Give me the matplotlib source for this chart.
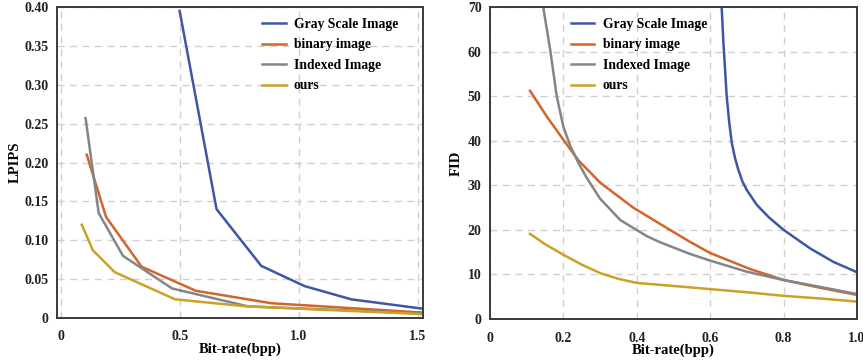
import matplotlib
matplotlib.use("Agg")
import matplotlib.pyplot as plt

plt.rcParams['font.family'] = ['Liberation Serif', 'DejaVu Serif']
plt.rcParams['font.weight'] = 'bold'

series_names = ["Gray Scale Image", "binary image", "Indexed Image", "ours"]
colors = ["#3E56A6", "#D2642C", "#858585", "#C9A227"]

# LPIPS panel
lp_gray_x = [0.50, 0.655, 0.843, 1.025, 1.221, 1.52]
lp_gray_y = [0.395, 0.140, 0.067, 0.041, 0.024, 0.012]
lp_bin_x = [0.110, 0.191, 0.340, 0.568, 0.885, 1.52]
lp_bin_y = [0.210, 0.130, 0.066, 0.035, 0.019, 0.007]
lp_idx_x = [0.105, 0.160, 0.262, 0.468, 0.787, 1.52]
lp_idx_y = [0.257, 0.135, 0.080, 0.038, 0.015, 0.006]
lp_our_x = [0.089, 0.136, 0.227, 0.481, 0.780, 1.52]
lp_our_y = [0.120, 0.087, 0.059, 0.024, 0.015, 0.005]

# FID panel
fid_gray_x = [0.630, 0.636, 0.645, 0.652, 0.659, 0.668, 0.677, 0.688, 0.700, 0.727, 0.760, 0.800, 0.845, 0.873, 0.936, 1.0]
fid_gray_y = [72.0, 62.0, 49.9, 44.0, 39.4, 36.0, 33.4, 30.8, 28.9, 25.6, 22.8, 20.0, 17.4, 15.8, 12.8, 10.5]
fid_bin_x = [0.109, 0.155, 0.200, 0.241, 0.300, 0.390, 0.464, 0.545, 0.600, 0.709, 0.800, 0.900, 1.0]
fid_bin_y = [51.2, 45.4, 40.2, 35.6, 30.6, 25.0, 21.3, 17.3, 14.8, 11.2, 8.75, 7.0, 5.4]
fid_idx_x = [0.143, 0.164, 0.182, 0.200, 0.218, 0.241, 0.264, 0.300, 0.355, 0.427, 0.464, 0.545, 0.600, 0.700, 0.800, 0.900, 1.0]
fid_idx_y = [71.0, 60.4, 49.9, 43.1, 39.0, 35.0, 31.6, 27.0, 22.2, 18.6, 17.2, 14.6, 13.1, 10.6, 8.75, 7.2, 5.6]
fid_our_x = [0.109, 0.150, 0.200, 0.250, 0.300, 0.350, 0.400, 0.545, 0.600, 0.700, 0.800, 0.900, 1.0]
fid_our_y = [19.1, 16.8, 14.4, 12.2, 10.3, 9.0, 8.1, 7.1, 6.7, 6.0, 5.2, 4.6, 3.9]

lp_xticks = [0, 0.5, 1.0, 1.5]
lp_xticklabels = ["0", "0.5", "1.0", "1.5"]
lp_yticks = [0, 0.05, 0.10, 0.15, 0.20, 0.25, 0.30, 0.35, 0.40]
lp_yticklabels = ["0", "0.05", "0.10", "0.15", "0.20", "0.25", "0.30", "0.35", "0.40"]
fid_xticks = [0, 0.2, 0.4, 0.6, 0.8, 1.0]
fid_xticklabels = ["0", "0.2", "0.4", "0.6", "0.8", "1.0"]
fid_yticks = [0, 10, 20, 30, 40, 50, 60, 70]
fid_yticklabels = ["0", "10", "20", "30", "40", "50", "60", "70"]

W, H = 863, 362
fig = plt.figure(figsize=(W / 100, H / 100), dpi=100)
ax1 = fig.add_axes([57 / W, (H - 318) / H, 366 / W, 311 / H])
ax2 = fig.add_axes([490 / W, (H - 319) / H, 367 / W, 312 / H])

def style(ax, xticks, xlabels, yticks, ylabels, ylabel, ylpad):
    ax.set_xticks(xticks)
    ax.set_xticklabels(xlabels)
    ax.set_yticks(yticks)
    ax.set_yticklabels(ylabels)
    ax.tick_params(length=0, labelsize=10, colors="#222222")
    ax.tick_params(axis='x', pad=9)
    ax.tick_params(axis='y', pad=6)
    ax.grid(True, color="#d0d0d0", linestyle=(0, (5, 4)), linewidth=1.0)
    ax.set_axisbelow(True)
    for s in ax.spines.values():
        s.set_color("#3a3a3a")
        s.set_linewidth(1.4)
    ax.set_xlabel("Bit-rate(bpp)", fontsize=10.5, fontweight='bold', labelpad=-1)
    ax.set_ylabel(ylabel, fontsize=10.5, fontweight='bold', labelpad=ylpad)

leg_kw = dict(loc="upper left", frameon=False, fontsize=9.8, handlelength=1.75,
              labelspacing=0.55, borderpad=0.3, handletextpad=0.6)

lp_data = [(lp_gray_x, lp_gray_y), (lp_bin_x, lp_bin_y), (lp_idx_x, lp_idx_y), (lp_our_x, lp_our_y)]
for (x, y), c, n in zip(lp_data, colors, series_names):
    ax1.plot(x, y, color=c, lw=1.8, label=n)
ax1.set_xlim(-0.015, 1.522)
ax1.set_ylim(0, 0.40)
style(ax1, lp_xticks, lp_xticklabels, lp_yticks, lp_yticklabels, "LPIPS", 2)
ax1.legend(bbox_to_anchor=(0.53, 1.0), **leg_kw)

fid_data = [(fid_gray_x, fid_gray_y), (fid_bin_x, fid_bin_y), (fid_idx_x, fid_idx_y), (fid_our_x, fid_our_y)]
for (x, y), c, n in zip(fid_data, colors, series_names):
    ax2.plot(x, y, color=c, lw=1.8, label=n)
ax2.set_xlim(0, 1.0)
ax2.set_ylim(0, 70)
style(ax2, fid_xticks, fid_xticklabels, fid_yticks, fid_yticklabels, "FID", 4)
ax2.legend(bbox_to_anchor=(0.19, 1.0), **leg_kw)

fig.savefig("out.png", dpi=100)
